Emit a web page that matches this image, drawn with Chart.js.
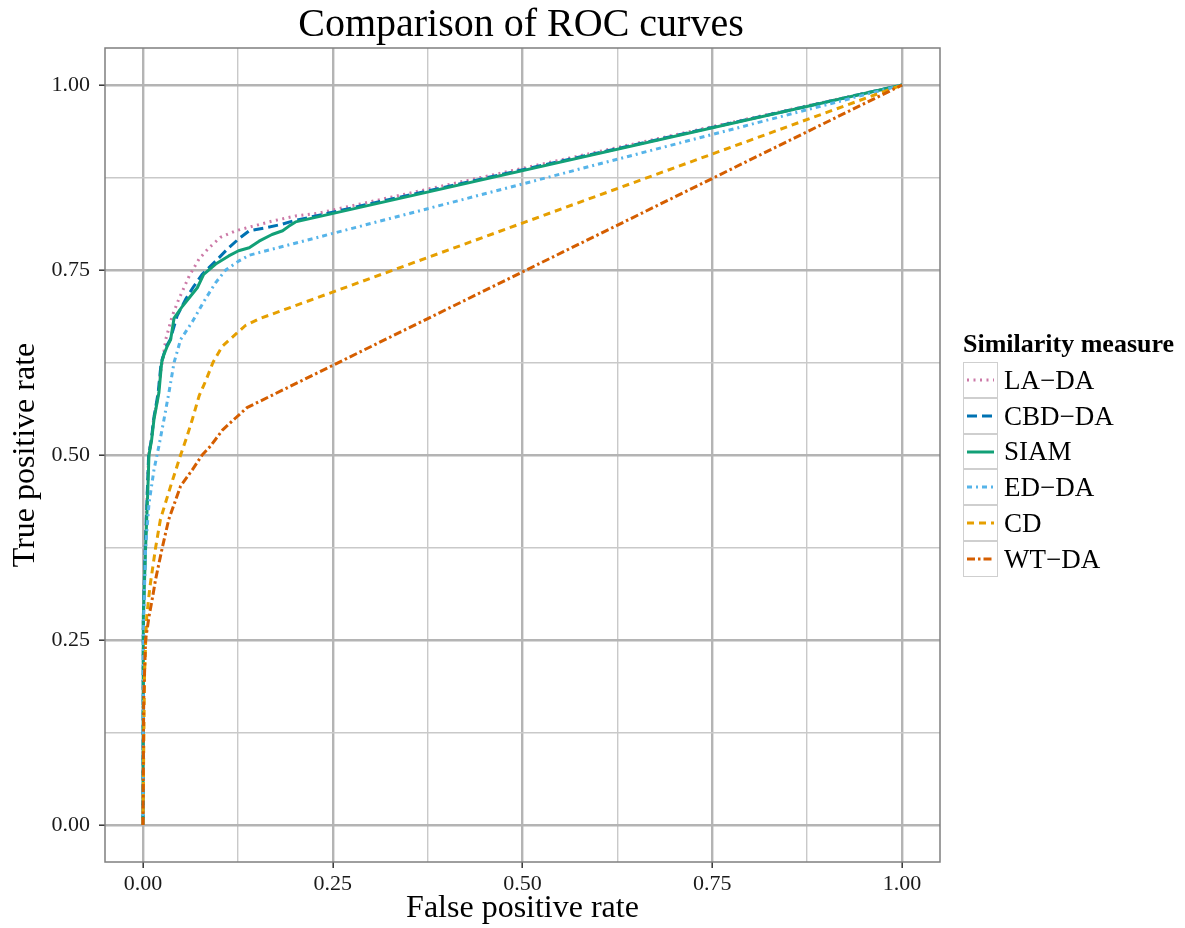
<!DOCTYPE html>
<html>
<head>
<meta charset="utf-8">
<script src="https://cdn.jsdelivr.net/npm/chart.js@4.4.1/dist/chart.umd.min.js"></script>
<style>
  html, body { margin: 0; padding: 0; background: #ffffff; }
  #wrap { position: relative; width: 1185px; height: 928px; font-family: "Liberation Serif", serif; color: #000; }
  #chartBox { position: absolute; left: 0; top: 0; width: 1185px; height: 928px; }
  #title { position: absolute; left: 121px; width: 800px; top: -1px; text-align: center; font-size: 40px; line-height: 48px; }
  #legend { position: absolute; left: 963px; top: 329px; }
  #legend .ltitle { font-weight: bold; font-size: 26px; line-height: 30px; height: 33px; white-space: nowrap; }
  #legend .row { display: flex; align-items: center; height: 35.8px; }
  #legend .key { width: 33px; height: 33.8px; border: 1px solid #cfcfcf; box-sizing: content-box; }
  #legend .lab { margin-left: 6px; font-size: 27px; line-height: 30px; white-space: nowrap; }
</style>
</head>
<body>
<div id="wrap">
  <div id="chartBox"><canvas id="c"></canvas></div>
  <div id="title">Comparison of ROC curves</div>
  <div id="legend"></div>
</div>
<script>
// ---------- data ----------
const SERIES_NAMES = ["LA\u2212DA", "CBD\u2212DA", "SIAM", "ED\u2212DA", "CD", "WT\u2212DA"];
const SERIES_COLORS = ["#CC79A7", "#0072B2", "#12A077", "#56B4E9", "#E69F00", "#D55E00"];

const LA_DA_FPR = [0, 0.0005, 0.003, 0.006, 0.0075, 0.011, 0.014, 0.019, 0.023, 0.027, 0.030, 0.0386, 0.047, 0.061, 0.074, 0.087, 0.102, 0.122, 0.144, 0.170, 0.201, 0.232, 1];
const LA_DA_TPR = [0, 0.28, 0.375, 0.458, 0.50, 0.52, 0.548, 0.575, 0.61, 0.635, 0.656, 0.688, 0.71, 0.742, 0.765, 0.78, 0.794, 0.803, 0.809, 0.816, 0.823, 0.827, 1];

const CBD_DA_FPR = [0, 0.0005, 0.003, 0.006, 0.0075, 0.011, 0.014, 0.020, 0.024, 0.031, 0.036, 0.041, 0.045, 0.056, 0.067, 0.078, 0.0958, 0.111, 0.126, 0.140, 0.162, 0.184, 0.197, 1];
const CBD_DA_TPR = [0, 0.28, 0.375, 0.458, 0.50, 0.52, 0.548, 0.584, 0.625, 0.647, 0.656, 0.674, 0.688, 0.71, 0.728, 0.744, 0.762, 0.778, 0.792, 0.803, 0.807, 0.812, 0.816, 1];

const SIAM_FPR = [0, 0.0005, 0.0035, 0.0066, 0.0079, 0.0114, 0.0145, 0.021, 0.0246, 0.0277, 0.032, 0.0365, 0.041, 0.052, 0.0716, 0.080, 0.0958, 0.113, 0.126, 0.140, 0.153, 0.170, 0.184, 0.192, 0.201, 1];
const SIAM_TPR = [0, 0.28, 0.375, 0.458, 0.50, 0.52, 0.548, 0.584, 0.625, 0.636, 0.647, 0.656, 0.685, 0.701, 0.726, 0.744, 0.758, 0.769, 0.776, 0.780, 0.789, 0.798, 0.803, 0.809, 0.815, 1];

const ED_DA_FPR = [0, 0.0005, 0.001, 0.0035, 0.008, 0.0145, 0.021, 0.0277, 0.035, 0.041, 0.0496, 0.065, 0.080, 0.0958, 0.109, 0.126, 0.140, 1];
const ED_DA_TPR = [0, 0.20, 0.282, 0.375, 0.435, 0.48, 0.512, 0.548, 0.589, 0.625, 0.656, 0.68, 0.707, 0.733, 0.75, 0.762, 0.77, 1];

const CD_FPR = [0, 0.001, 0.002, 0.004, 0.005, 0.0092, 0.0167, 0.023, 0.0365, 0.0496, 0.058, 0.065, 0.074, 0.0826, 0.0922, 0.1045, 0.124, 0.135, 0.153, 1];
const CD_TPR = [0, 0.10, 0.20, 0.26, 0.282, 0.322, 0.375, 0.413, 0.458, 0.50, 0.525, 0.548, 0.58, 0.60, 0.625, 0.647, 0.665, 0.675, 0.684, 1];

const WT_DA_FPR = [0, 0.001, 0.0035, 0.008, 0.012, 0.0167, 0.0255, 0.034, 0.0496, 0.065, 0.078, 0.089, 0.105, 0.122, 0.137, 1];
const WT_DA_TPR = [0, 0.17, 0.25, 0.282, 0.304, 0.332, 0.375, 0.413, 0.458, 0.48, 0.50, 0.512, 0.534, 0.55, 0.564, 1];

const X_TICKS = [0, 0.125, 0.25, 0.375, 0.5, 0.625, 0.75, 0.875, 1];
const Y_TICKS = [0, 0.125, 0.25, 0.375, 0.5, 0.625, 0.75, 0.875, 1];
const MAJOR_TICKS = [0, 0.25, 0.5, 0.75, 1];
const X_TITLE = "False positive rate";
const Y_TITLE = "True positive rate";
const LEGEND_TITLE = "Similarity measure";

// ---------- styles ----------
const DASHES = [[2, 4.5], [10, 5], [], [5, 4, 2, 4], [7, 5], [8, 3, 2.5, 3]];
const LINE_W = 3;

const seriesX = [LA_DA_FPR, CBD_DA_FPR, SIAM_FPR, ED_DA_FPR, CD_FPR, WT_DA_FPR];
const seriesY = [LA_DA_TPR, CBD_DA_TPR, SIAM_TPR, ED_DA_TPR, CD_TPR, WT_DA_TPR];

const isMajor = v => MAJOR_TICKS.some(m => Math.abs(m - v) < 1e-9);
const FONT = "'Liberation Serif', serif";

const datasets = SERIES_NAMES.map((name, i) => ({
  label: name,
  data: seriesX[i].map((x, k) => ({ x: x, y: seriesY[i][k] })),
  borderColor: SERIES_COLORS[i],
  backgroundColor: SERIES_COLORS[i],
  borderWidth: LINE_W,
  borderDash: DASHES[i],
  borderCapStyle: "butt",
  borderJoinStyle: "round",
  pointRadius: 0,
  tension: 0,
  fill: false,
  order: SERIES_NAMES.length - i
}));

const panelBorder = {
  id: "panelBorder",
  afterDatasetsDraw(chart) {
    const { ctx, chartArea: a } = chart;
    ctx.save();
    ctx.strokeStyle = "#7f7f7f";
    ctx.lineWidth = 1.5;
    ctx.strokeRect(a.left, a.top, a.right - a.left, a.bottom - a.top);
    ctx.restore();
  }
};

function gridOpts() {
  return {
    color: c => (c.tick && isMajor(c.tick.value)) ? "#b4b4b4" : "#c9c9c9",
    lineWidth: c => (c.tick && isMajor(c.tick.value)) ? 2.4 : 1.4,
    drawTicks: true,
    tickLength: 6,
    tickColor: c => (c.tick && isMajor(c.tick.value)) ? "#333333" : "rgba(0,0,0,0)",
    tickWidth: 1.5
  };
}

new Chart(document.getElementById("c"), {
  type: "line",
  data: { datasets: datasets },
  options: {
    responsive: true,
    maintainAspectRatio: false,
    animation: false,
    events: [],
    layout: { padding: { left: 0, right: 245, top: 48, bottom: 0 } },
    plugins: { legend: { display: false }, title: { display: false }, tooltip: { enabled: false } },
    scales: {
      x: {
        type: "linear",
        min: -0.05, max: 1.05,
        afterBuildTicks: s => { s.ticks = X_TICKS.map(v => ({ value: v })); },
        afterFit: s => { s.height = 66; },
        grid: gridOpts(),
        border: { display: false },
        ticks: {
          autoSkip: false, maxRotation: 0, padding: 3,
          color: "#1a1a1a",
          font: { family: FONT, size: 22 },
          callback: v => isMajor(v) ? v.toFixed(2) : ""
        },
        title: { display: true, text: X_TITLE, color: "#000", font: { family: FONT, size: 32 }, padding: { top: 0, bottom: 0 } }
      },
      y: {
        type: "linear",
        min: -0.05, max: 1.05,
        afterBuildTicks: s => { s.ticks = Y_TICKS.map(v => ({ value: v })); },
        afterFit: s => { s.width = 105; },
        grid: gridOpts(),
        border: { display: false },
        ticks: {
          autoSkip: false, padding: 9,
          color: "#1a1a1a",
          font: { family: FONT, size: 22 },
          callback: v => isMajor(v) ? v.toFixed(2) : ""
        },
        title: { display: true, text: Y_TITLE, color: "#000", font: { family: FONT, size: 32 }, padding: { top: 6, bottom: 0 } }
      }
    }
  },
  plugins: [panelBorder]
});

// ---------- HTML legend built from the series arrays ----------
const legend = document.getElementById("legend");
const t = document.createElement("div");
t.className = "ltitle";
t.textContent = LEGEND_TITLE;
legend.appendChild(t);
SERIES_NAMES.forEach((name, i) => {
  const row = document.createElement("div");
  row.className = "row";
  const key = document.createElement("div");
  key.className = "key";
  const svgNS = "http://www.w3.org/2000/svg";
  const svg = document.createElementNS(svgNS, "svg");
  svg.setAttribute("width", "33");
  svg.setAttribute("height", "34");
  const ln = document.createElementNS(svgNS, "line");
  ln.setAttribute("x1", "3"); ln.setAttribute("x2", "30");
  ln.setAttribute("y1", "17"); ln.setAttribute("y2", "17");
  ln.setAttribute("stroke", SERIES_COLORS[i]);
  ln.setAttribute("stroke-width", String(LINE_W));
  if (DASHES[i].length) ln.setAttribute("stroke-dasharray", DASHES[i].join(" "));
  svg.appendChild(ln);
  key.appendChild(svg);
  const lab = document.createElement("div");
  lab.className = "lab";
  lab.textContent = name;
  row.appendChild(key);
  row.appendChild(lab);
  legend.appendChild(row);
});
</script>
</body>
</html>
